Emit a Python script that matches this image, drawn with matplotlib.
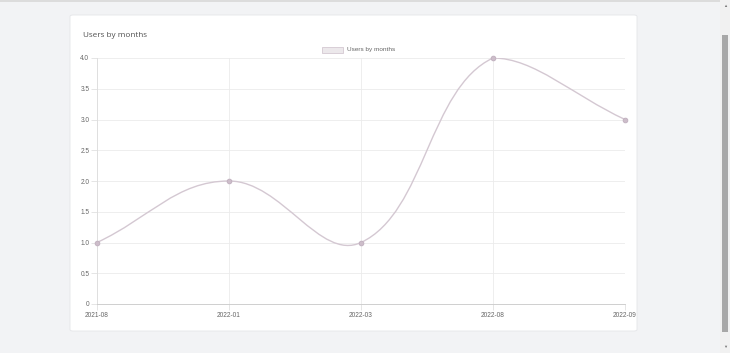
import matplotlib

matplotlib.use('Agg')
import matplotlib.pyplot as plt
from matplotlib.path import Path
from matplotlib.patches import PathPatch, FancyBboxPatch, Rectangle
import numpy as np

months = ['2021-08', '2022-01', '2022-03', '2022-08', '2022-09']
users = [1, 2, 1, 4, 3]
y_ticks = [0, 0.5, 1.0, 1.5, 2.0, 2.5, 3.0, 3.5, 4.0]
y_labels = ['0', '0.5', '1.0', '1.5', '2.0', '2.5', '3.0', '3.5', '4.0']
title = 'Users by months'
series_name = 'Users by months'

W, H = 730, 353
LINE = '#d4c8d2'
GRID = '#ebebeb'
TXT = '#666666'

plt.rcParams['font.family'] = ['Liberation Sans', 'DejaVu Sans']

fig = plt.figure(figsize=(W / 100, H / 100), dpi=100)
fig.patch.set_facecolor('#f2f3f5')

# card (behind the axes)
card = FancyBboxPatch((70 / W, 1 - 331 / H), 567 / W, 316 / H,
                      boxstyle='round,pad=0,rounding_size=0.004',
                      transform=fig.transFigure, facecolor='white',
                      edgecolor='#e4e5e8', linewidth=0.6, zorder=-2)
fig.patches.append(card)

# scrollbar
fig.patches.append(Rectangle((720 / W, 0), 10 / W, 1, transform=fig.transFigure,
                             facecolor='#f1f1f1', edgecolor='none', zorder=-2))
fig.patches.append(Rectangle((722 / W, 1 - 332 / H), 6 / W, 297 / H, transform=fig.transFigure,
                             facecolor='#a8a8a8', edgecolor='none', zorder=-1))
fig.text(725 / W, 1 - 6 / H, '\u25b2', fontsize=3, color='#777777', ha='center', va='center')
fig.text(725 / W, 1 - 347 / H, '\u25bc', fontsize=3, color='#777777', ha='center', va='center')
fig.patches.append(Rectangle((0, 1 - 1.5 / H), 720 / W, 1.5 / H, transform=fig.transFigure,
                             facecolor='#dcdcdc', edgecolor='none', zorder=-1))

fig.text(83 / W, 1 - 35.5 / H, title, fontsize=5.9, color='#505050', va='center', ha='left',
         family=['Open Sans', 'DejaVu Sans'])

# plot area in pixels
x0, x1, ytop, ybot = 97, 625, 58, 304
ax = fig.add_axes([x0 / W, 1 - ybot / H, (x1 - x0) / W, (ybot - ytop) / H])
ax.set_facecolor('none')
n = len(months)
ax.set_xlim(0, n - 1)
ax.set_ylim(0, 4)

# bezier like Chart.js (tension 0.4), computed in pixel space
sx = (x1 - x0) / (n - 1)
sy = (ybot - ytop) / 4.0
px = np.arange(n) * sx
py = np.array(users, dtype=float) * sy
t = 0.4
cp_prev, cp_next = [], []
for i in range(n):
    pv = (px[max(i - 1, 0)], py[max(i - 1, 0)])
    cu = (px[i], py[i])
    nx = (px[min(i + 1, n - 1)], py[min(i + 1, n - 1)])
    d01 = np.hypot(cu[0] - pv[0], cu[1] - pv[1])
    d12 = np.hypot(nx[0] - cu[0], nx[1] - cu[1])
    s01 = d01 / (d01 + d12) if d01 + d12 else 0
    s12 = d12 / (d01 + d12) if d01 + d12 else 0
    fa, fb = t * s01, t * s12
    dx, dy = nx[0] - pv[0], nx[1] - pv[1]
    a = (np.clip((cu[0] - fa * dx) / sx, 0, n - 1), np.clip((cu[1] - fa * dy) / sy, 0, 4))
    b = (np.clip((cu[0] + fb * dx) / sx, 0, n - 1), np.clip((cu[1] + fb * dy) / sy, 0, 4))
    cp_prev.append(a)
    cp_next.append(b)

verts = [(0, users[0])]
codes = [Path.MOVETO]
for i in range(1, n):
    verts += [cp_next[i - 1], cp_prev[i], (i, users[i])]
    codes += [Path.CURVE4] * 3
ax.add_patch(PathPatch(Path(verts, codes), facecolor='none', edgecolor=LINE, linewidth=1.0))
ax.plot(range(n), users, 'o', ms=3.4, color='#cdbdca', mec='#bfaebd', mew=0.6, clip_on=False, zorder=5)

ax.set_xticks(range(n))
ax.set_xticklabels(months)
ax.set_yticks(y_ticks)
ax.set_yticklabels(y_labels)
ax.grid(True, color=GRID, linewidth=0.6)
ax.set_axisbelow(True)
ax.tick_params(axis='both', colors='#e0e0e0', labelcolor=TXT, labelsize=4.7, length=4.5, width=0.6, pad=1)
for side in ['top', 'right']:
    ax.spines[side].set_visible(False)
ax.spines['left'].set_color('#dddddd')
ax.spines['bottom'].set_color('#c8c8c8')
ax.spines['left'].set_linewidth(0.6)
ax.spines['bottom'].set_linewidth(0.6)

# legend
fig.patches.append(Rectangle((322 / W, 1 - 52.5 / H), 21 / W, 6 / H, transform=fig.transFigure,
                             facecolor='#ece8eb', edgecolor='#d4c8d2', linewidth=0.6))
fig.text(347 / W, 1 - 49.5 / H, series_name, fontsize=4.6, color=TXT, va='center', ha='left')

fig.savefig('out.png', dpi=100, facecolor=fig.get_facecolor())
